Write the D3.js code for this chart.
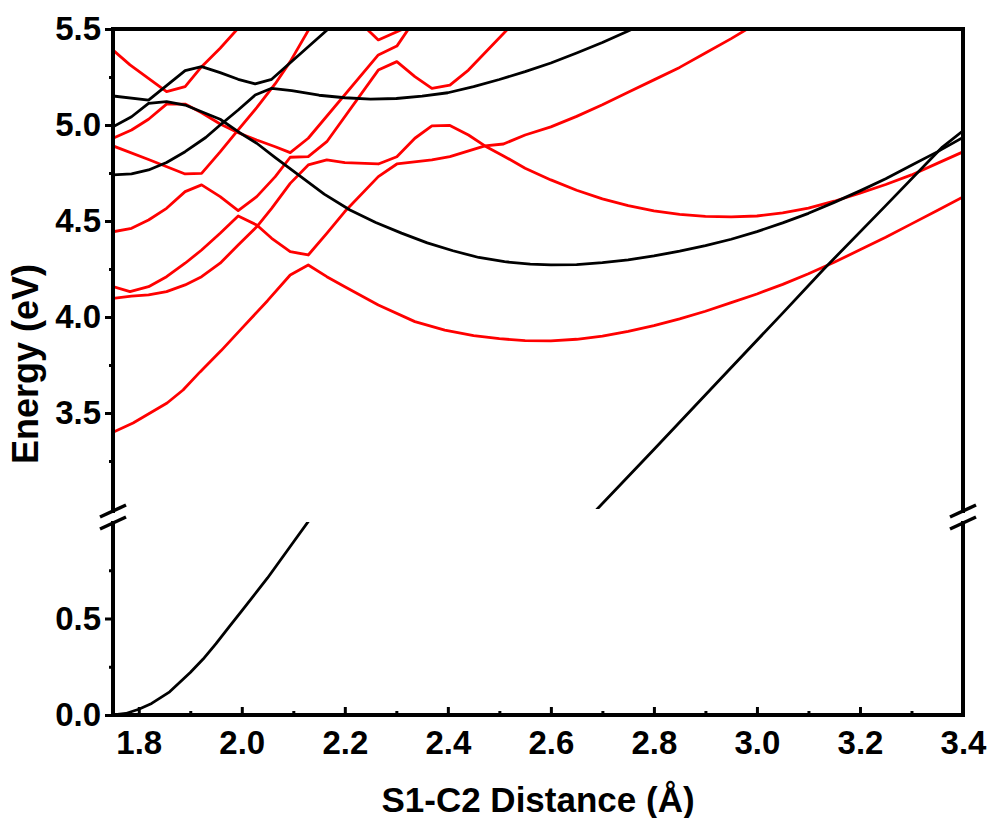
<!DOCTYPE html>
<html>
<head>
<meta charset="utf-8">
<script src="https://d3js.org/d3.v7.min.js"></script>
<style>
  body { margin: 0; background: #fff; }
  svg { display: block; }
  .tick text { font-family: "Liberation Sans", Arial, sans-serif; font-weight: bold; }
</style>
</head>
<body>
<div id="chart"></div>
<script>
// ---- data ----
var xMajor = [1.8, 2.0, 2.2, 2.4, 2.6, 2.8, 3.0, 3.2, 3.4];
var xMinor = [1.9, 2.1, 2.3, 2.5, 2.7, 2.9, 3.1, 3.3];
var yUpperMajor = [3.5, 4.0, 4.5, 5.0, 5.5];
var yUpperMinor = [3.25, 3.75, 4.25, 4.75, 5.25];
var yLowerMajor = [0.0, 0.5];
var yLowerMinor = [0.25, 0.75];

// black states
var blackS0 = [[1.75,0.0],[1.775,0.008],[1.80,0.03],[1.825,0.06],[1.86,0.12],[1.90,0.22],[1.925,0.29],
  [1.95,0.37],[1.975,0.455],[2.00,0.54],[2.05,0.71],[2.10,0.895],[2.15,1.08],[2.65,2.88],[2.69,3.0],
  [2.80,3.31],[2.93,3.68],[3.05,4.02],[3.13,4.25],[3.25,4.58],[3.36,4.885],[3.40,4.97]];
var blackB = [[1.75,5.151],[1.819,5.13],[1.89,5.283],[1.922,5.304],[1.958,5.273],[1.993,5.238],
  [2.026,5.214],[2.058,5.238],[2.17,5.505]];
var blackC = [[1.75,4.991],[1.786,5.043],[1.819,5.113],[1.854,5.122],[1.89,5.104],[1.922,5.069],
  [1.958,5.03],[1.993,4.965],[2.029,4.905],[2.065,4.83],[2.11,4.74],[2.16,4.64],[2.21,4.557],
  [2.26,4.492],[2.31,4.437],[2.36,4.386],[2.41,4.345],[2.46,4.31],[2.51,4.288],[2.56,4.275],
  [2.6,4.271],[2.65,4.273],[2.7,4.283],[2.75,4.297],[2.8,4.318],[2.85,4.343],[2.9,4.372],
  [2.95,4.405],[3.0,4.445],[3.05,4.49],[3.1,4.54],[3.15,4.597],[3.2,4.657],[3.25,4.72],
  [3.3,4.79],[3.35,4.86],[3.4,4.935]];
var blackD = [[1.75,4.74],[1.786,4.745],[1.819,4.766],[1.854,4.805],[1.89,4.861],[1.93,4.935],
  [1.958,5.0],[1.993,5.078],[2.026,5.156],[2.058,5.191],[2.097,5.179],[2.15,5.155],[2.2,5.142],
  [2.25,5.135],[2.3,5.138],[2.35,5.15],[2.4,5.168],[2.45,5.2],[2.5,5.237],[2.55,5.278],
  [2.6,5.323],[2.65,5.375],[2.7,5.43],[2.75,5.49],[2.8,5.55]];

// red states
var redA = [[1.75,5.39],[1.783,5.313],[1.854,5.174],[1.89,5.2],[1.922,5.304],[1.958,5.40],[1.995,5.51]];
var redB = [[1.75,4.931],[1.786,4.974],[1.819,5.03],[1.854,5.109],[1.89,5.109],[1.922,5.064],
  [1.958,5.005],[1.993,4.96],[2.029,4.922],[2.065,4.887],[2.094,4.856],[2.129,4.931],[2.265,5.365],
  [2.301,5.411],[2.33,5.525]];
var redC = [[1.75,4.891],[1.819,4.82],[1.89,4.745],[1.922,4.748],[1.958,4.86],[1.993,4.975],
  [2.029,5.09],[2.065,5.215],[2.094,5.33],[2.135,5.52]];
var redV = [[2.235,5.52],[2.265,5.443],[2.33,5.52]];
var redD = [[1.75,4.444],[1.786,4.462],[1.819,4.505],[1.854,4.566],[1.89,4.653],[1.922,4.688],
  [1.958,4.627],[1.993,4.554],[2.029,4.627],[2.065,4.731],[2.094,4.832],[2.129,4.835],[2.165,4.913],
  [2.265,5.286],[2.301,5.33],[2.336,5.252],[2.369,5.191],[2.404,5.208],[2.44,5.286],[2.52,5.51]];
var redE = [[1.75,4.158],[1.783,4.132],[1.819,4.158],[1.854,4.21],[1.89,4.28],[1.922,4.349],
  [1.958,4.436],[1.993,4.526],[2.029,4.479],[2.058,4.41],[2.094,4.34],[2.129,4.323],[2.165,4.436],
  [2.2,4.549],[2.265,4.731],[2.301,4.797],[2.369,4.818],[2.404,4.835],[2.472,4.891],[2.508,4.901],
  [2.55,4.948],[2.6,4.99],[2.65,5.045],[2.7,5.105],[2.75,5.17],[2.8,5.235],[2.85,5.30],
  [2.9,5.375],[2.95,5.45],[3.0,5.53]];
var redF = [[1.75,4.097],[1.786,4.109],[1.819,4.115],[1.854,4.132],[1.89,4.167],[1.922,4.21],
  [1.958,4.28],[1.993,4.375],[2.029,4.47],[2.058,4.566],[2.094,4.696],[2.129,4.792],[2.165,4.818],
  [2.2,4.804],[2.265,4.797],[2.301,4.835],[2.336,4.931],[2.369,4.995],[2.404,4.998],[2.44,4.948],
  [2.472,4.891],[2.508,4.839],[2.55,4.775],[2.6,4.714],[2.65,4.66],[2.7,4.615],[2.75,4.58],
  [2.8,4.553],[2.85,4.535],[2.9,4.524],[2.95,4.521],[3.0,4.526],[3.05,4.542],[3.1,4.567],
  [3.15,4.603],[3.2,4.645],[3.25,4.69],[3.3,4.74],[3.35,4.80],[3.4,4.86]];
var redG = [[1.75,3.40],[1.789,3.448],[1.822,3.50],[1.855,3.552],[1.886,3.62],[1.919,3.714],
  [1.96,3.825],[2.0,3.941],[2.05,4.085],[2.094,4.219],[2.129,4.271],[2.165,4.21],[2.2,4.158],
  [2.265,4.063],[2.336,3.976],[2.394,3.932],[2.45,3.903],[2.5,3.887],[2.55,3.877],[2.6,3.876],
  [2.65,3.884],[2.7,3.9],[2.75,3.925],[2.8,3.955],[2.85,3.99],[2.9,4.03],[2.95,4.075],[3.0,4.12],
  [3.05,4.17],[3.1,4.225],[3.15,4.285],[3.2,4.35],[3.25,4.415],[3.3,4.485],[3.35,4.555],[3.4,4.625]];

var series = [redA, redB, redC, redV, redD, redE, redF, redG, blackS0, blackB, blackC, blackD];
var seriesColor = ["red","red","red","red","red","red","red","red","black","black","black","black"];

// ---- layout ----
var width = 992, height = 818;
var left = 113, right = 963,
    upTop = 29, upBottom = 509,
    lowTop = 522, lowBottom = 715;

var x = d3.scaleLinear().domain([1.75, 3.4]).range([left, right]);
var yUp = d3.scaleLinear().domain([3.0, 5.5]).range([upBottom, upTop]);
var yLow = d3.scaleLinear().domain([0.0, 1.0]).range([lowBottom, lowTop]);

var svg = d3.select("#chart").append("svg")
    .attr("width", width)
    .attr("height", height);

var defs = svg.append("defs");
defs.append("clipPath").attr("id", "clipUp")
  .append("rect").attr("x", left).attr("y", upTop).attr("width", right - left).attr("height", upBottom - upTop);
defs.append("clipPath").attr("id", "clipLow")
  .append("rect").attr("x", left).attr("y", lowTop).attr("width", right - left).attr("height", lowBottom - lowTop);

function drawPanel(yScale, clipId) {
  var line = d3.line()
    .x(function(d) { return x(d[0]); })
    .y(function(d) { return yScale(d[1]); });
  var g = svg.append("g").attr("clip-path", "url(#" + clipId + ")");
  g.selectAll("path")
    .data(series)
    .enter()
    .append("path")
    .attr("d", line)
    .attr("fill", "none")
    .attr("stroke", function(d, i) { return seriesColor[i]; })
    .attr("stroke-width", 2.8)
    .attr("stroke-linejoin", "round");
}
drawPanel(yUp, "clipUp");
drawPanel(yLow, "clipLow");

// ---- axes ----
var fmt = d3.format(".1f");
function styleAxis(g, size) {
  g.select(".domain").remove();
  g.selectAll(".tick line").attr("stroke", "#000").attr("stroke-width", 3);
  g.selectAll(".tick text").attr("font-size", size).attr("fill", "#000");
}

svg.append("g").attr("transform", "translate(" + left + ",0)")
  .call(d3.axisLeft(yUp).tickValues(yUpperMajor).tickSize(8).tickPadding(4).tickFormat(fmt))
  .call(styleAxis, 33);
svg.append("g").attr("transform", "translate(" + left + ",0)")
  .call(d3.axisLeft(yUp).tickValues(yUpperMinor).tickSize(4).tickFormat(""))
  .call(styleAxis, 33);
svg.append("g").attr("transform", "translate(" + left + ",0)")
  .call(d3.axisLeft(yLow).tickValues(yLowerMajor).tickSize(8).tickPadding(4).tickFormat(fmt))
  .call(styleAxis, 33);
svg.append("g").attr("transform", "translate(" + left + ",0)")
  .call(d3.axisLeft(yLow).tickValues(yLowerMinor).tickSize(4).tickFormat(""))
  .call(styleAxis, 33);

svg.append("g").attr("transform", "translate(0," + lowBottom + ")")
  .call(d3.axisBottom(x).tickValues(xMajor).tickSizeInner(-8).tickSizeOuter(0).tickPadding(16).tickFormat(fmt))
  .call(styleAxis, 33);
svg.append("g").attr("transform", "translate(0," + lowBottom + ")")
  .call(d3.axisBottom(x).tickValues(xMinor).tickSizeInner(-4).tickSizeOuter(0).tickFormat(""))
  .call(styleAxis, 33);

// ---- frame with axis break ----
var brkA = upBottom + 2, brkB = lowTop + 1;
var frame = svg.append("g")
  .attr("stroke", "#000")
  .attr("stroke-width", 4)
  .attr("fill", "none")
  .attr("stroke-linecap", "square");
frame.append("path").attr("d",
  "M" + left + "," + upTop + "H" + right +
  "M" + left + "," + lowBottom + "H" + right +
  "M" + left + "," + upTop + "V" + brkA +
  "M" + left + "," + brkB + "V" + lowBottom +
  "M" + right + "," + upTop + "V" + brkA +
  "M" + right + "," + brkB + "V" + lowBottom);

[left, right].forEach(function(xp) {
  [brkA, brkB].forEach(function(yp) {
    svg.append("line")
      .attr("x1", xp - 13).attr("y1", yp + 6)
      .attr("x2", xp + 13).attr("y2", yp - 6)
      .attr("stroke", "#000").attr("stroke-width", 3.5);
  });
});

// ---- titles ----
svg.append("text")
  .attr("x", (left + right) / 2)
  .attr("y", 812)
  .attr("text-anchor", "middle")
  .attr("font-family", "Liberation Sans, Arial, sans-serif")
  .attr("font-weight", "bold")
  .attr("font-size", 35)
  .text("S1-C2 Distance (Å)");

svg.append("text")
  .attr("transform", "translate(38,364) rotate(-90)")
  .attr("text-anchor", "middle")
  .attr("font-family", "Liberation Sans, Arial, sans-serif")
  .attr("font-weight", "bold")
  .attr("font-size", 36)
  .text("Energy (eV)");
</script>
</body>
</html>
